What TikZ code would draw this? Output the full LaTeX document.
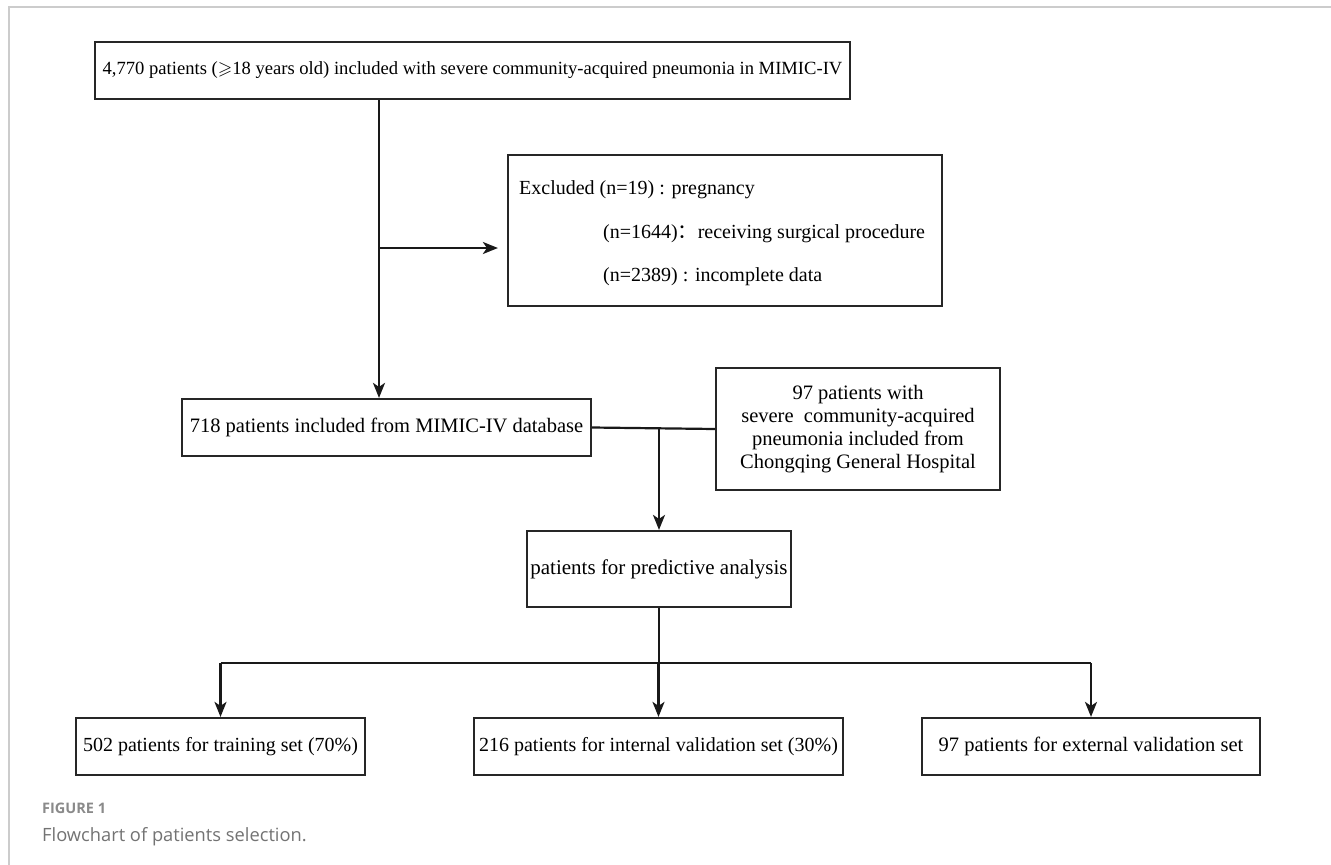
\documentclass[tikz,border=0pt]{standalone}
\usepackage{fontspec}
\usepackage{amssymb}
\setmainfont{Liberation Serif}
\newfontfamily\capfont{Open Sans}
\newfontfamily\cjk{Noto Sans CJK SC}
\usetikzlibrary{arrows.meta}
\definecolor{capgray}{HTML}{737373}
\definecolor{figgray}{HTML}{8A8A8A}
\definecolor{framegray}{HTML}{CCCCCC}
\tikzset{
  box/.style={draw=black!85, line width=2.2pt, rectangle, inner sep=0pt, font=\fontsize{20}{23}\selectfont},
  conn/.style={line width=2.2pt, draw=black!90},
  arr/.style={conn, -{Stealth[length=15pt,width=12pt,inset=4pt]}},
  lbl/.style={inner sep=0pt, font=\fontsize{20}{23}\selectfont, anchor=base west}
}
\begin{document}
\begin{tikzpicture}[x=1pt,y=-1pt]
\useasboundingbox[fill=white] (0,0) rectangle (1331,865);
\draw[framegray, line width=1.6pt] (9,865) -- (9,7) -- (1331,7);

\node[box, minimum width=755pt, minimum height=57pt, font=\fontsize{18.6}{22}\selectfont] (top) at (472.5,70.5)
  {4,770 patients ($\geqslant$18 years old) included with severe community-acquired pneumonia in MIMIC-IV};

\node[box, minimum width=434pt, minimum height=151pt] (excl) at (725,230.5) {};
\node[lbl] (e1) at (519,194) {Excluded (n=19) : pregnancy};
\node[lbl] (e2) at (603,238) {(n=1644){\cjk ：}receiving surgical procedure};
\node[lbl] (e3) at (603,281) {(n=2389) : incomplete data};

\node[box, minimum width=409pt, minimum height=57pt, font=\fontsize{20.5}{23}\selectfont] (mimic) at (386.5,427.5)
  {718 patients included from MIMIC-IV database};
\node[box, minimum width=284pt, minimum height=122pt, align=center, font=\fontsize{20.5}{23}\selectfont] (chong) at (858,429)
  {97 patients with\\severe\ \ community-acquired\\pneumonia included from\\Chongqing General Hospital};
\node[box, minimum width=264pt, minimum height=76pt, font=\fontsize{21}{23}\selectfont] (pred) at (659,569)
  {patients for predictive analysis};

\node[box, minimum width=289pt, minimum height=57pt] (b1) at (220.5,746.5)
  {502 patients for training set (70\%)};
\node[box, minimum width=369pt, minimum height=57pt] (b2) at (658.5,746.5)
  {216 patients for internal validation set (30\%)};
\node[box, minimum width=338pt, minimum height=57pt, font=\fontsize{20.5}{23}\selectfont] (b3) at (1091,746.5)
  {97 patients for external validation set};

\coordinate (c1) at (379,248);
\draw[arr] (top.south -| c1) -- (mimic.north -| c1);
\draw[arr, shorten >=9pt] (c1) -- (c1 -| excl.west);
\draw[conn] (mimic.east) -- (chong.west);
\draw[arr] (pred.north |- mimic.east) -- (pred.north);
\coordinate (c2) at (659,663);
\draw[conn] (pred.south) -- (c2);
\draw[conn] (c2 -| b1.north) -- (c2 -| b3.north);
\draw[arr] (c2 -| b1.north) -- (b1.north);
\draw[arr] (c2 -| b2.north) -- (b2.north);
\draw[arr] (c2 -| b3.north) -- (b3.north);

\node[anchor=base west, inner sep=0pt, text=figgray, font=\capfont\bfseries\fontsize{14.5}{16}\selectfont] (fig) at (42,813) {FIGURE 1};
\node[anchor=base west, inner sep=0pt, text=capgray, font=\capfont\fontsize{18.3}{21}\selectfont] (capt) at (42,841) {Flowchart of patients selection.};
\end{tikzpicture}
\end{document}
